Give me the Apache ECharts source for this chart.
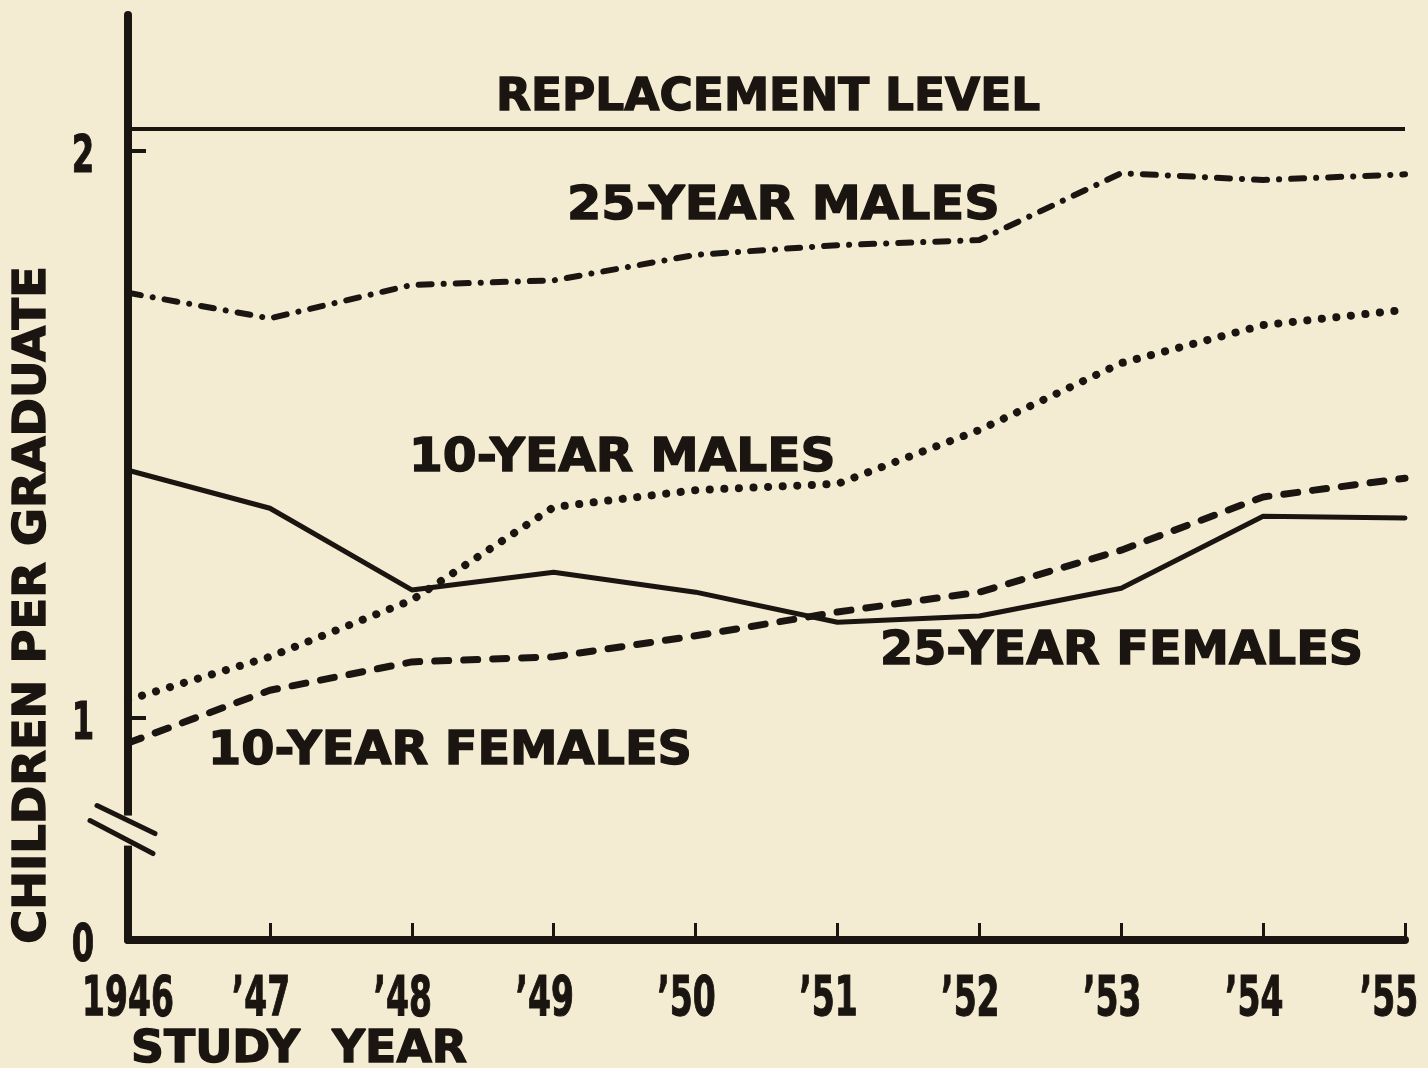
<!DOCTYPE html>
<html><head><meta charset="utf-8">
<script src="https://cdn.jsdelivr.net/npm/echarts@6/dist/echarts.min.js"></script>
<style>html,body{margin:0;padding:0;background:#f4ecd2;} #c{width:1428px;height:1068px;}</style>
</head><body><div id="c"></div>
<script>
const years = ['1946', '’47', '’48', '’49', '’50', '’51', '’52', '’53', '’54', '’55'];
const males25 = [1.750, 1.705, 1.764, 1.772, 1.817, 1.834, 1.843, 1.961, 1.949, 1.959];
const males10 = [1.032, 1.108, 1.208, 1.372, 1.402, 1.413, 1.508, 1.626, 1.693, 1.720];
const females25 = [1.437, 1.370, 1.226, 1.257, 1.222, 1.169, 1.180, 1.229, 1.356, 1.353];
const females10 = [0.956, 1.049, 1.099, 1.108, 1.145, 1.187, 1.222, 1.296, 1.390, 1.423];
const replacementLevel = 2.044;
const yMin = 0.6085, yMax = 2.24;
const yTickValues = [1, 2];
const yLabelValues = [yMin, 1, 2];
const yLabelTexts = ['0', '1', '2'];
const yBreak = [0.775, 0.828];

const INK = '#1b1511';
const BG = '#f4ecd2';
const txtFont = "'DejaVu Sans', sans-serif";

const chart = echarts.init(document.getElementById('c'), null, {renderer: 'canvas'});

function lineSeries(name, data, width, type) {
  return {
    name, type: 'line', data, symbol: 'none', smooth: false,
    lineStyle: {color: INK, width, type, cap: 'round', join: 'round'},
    z: 3
  };
}

chart.setOption({
  backgroundColor: BG,
  animation: false,
  grid: {left: 128, right: 23, top: 15, bottom: 128, containLabel: false, outerBoundsMode: 'none'},
  xAxis: {
    type: 'category', data: years, boundaryGap: false,
    axisLine: {lineStyle: {color: INK, width: 8, cap: 'round'}},
    axisTick: {show: true, inside: true, length: 17, alignWithLabel: true, lineStyle: {color: INK, width: 3}},
    axisLabel: {show: false},
    splitLine: {show: false}
  },
  yAxis: {
    type: 'value', min: yMin, max: yMax,
    axisLine: {show: true, lineStyle: {color: INK, width: 8, cap: 'round'}},
    axisTick: {show: true, inside: true, length: 18, customValues: yTickValues, lineStyle: {color: INK, width: 4}},
    axisLabel: {show: false},
    splitLine: {show: false}
  },
  series: [
    Object.assign(lineSeries('25-Year Males', males25, 6, [13, 12, 0.1, 12]), {
      markLine: {
        silent: true, symbol: 'none', label: {show: false},
        lineStyle: {color: INK, width: 4, type: 'solid'},
        data: [{yAxis: replacementLevel}]
      }
    }),
    lineSeries('10-Year Males', males10, 8, [0.1, 14.5]),
    lineSeries('25-Year Females', females25, 5, 'solid'),
    lineSeries('10-Year Females', females10, 7, [14, 15])
  ]
});

const p0 = chart.convertToPixel({gridIndex: 0}, [0, yBreak[1]]);
const p1 = chart.convertToPixel({gridIndex: 0}, [0, yBreak[0]]);
const ax = p0[0], yTop = p0[1], yBot = p1[1], yc = (yTop + yBot) / 2;

function label(text, left, top, size, sx) {
  return {type: 'text', x: left, y: top, scaleX: sx || 1, z: 10,
    style: {text, fill: INK, stroke: INK, lineWidth: 1.4, font: `bold ${size}px ${txtFont}`, align: 'left', verticalAlign: 'top'}};
}
function numText(text, x, y, size, sx, va) {
  return {type: 'text', x, y, scaleX: sx, z: 10,
    style: {text, fill: INK, stroke: INK, lineWidth: 1.2, font: `bold ${size}px ${txtFont}`, align: 'center', verticalAlign: va}};
}

const graphics = [
  label('REPLACEMENT LEVEL', 496, 76, 45, 1.01),
  label('25-YEAR MALES', 567, 183, 47, 1.05),
  label('10-YEAR MALES', 409, 435, 47, 1.035),
  label('25-YEAR FEMALES', 880, 628, 46.5, 1.025),
  label('10-YEAR FEMALES', 208, 728, 46.5, 1.027),
  label('STUDY  YEAR', 131, 1029, 44, 1.04),
  {type: 'text', x: 33, y: 605, rotation: Math.PI / 2, scaleX: 1.03, z: 10,
    style: {text: 'CHILDREN PER GRADUATE', fill: INK, stroke: INK, lineWidth: 1.4, font: `bold 45px ${txtFont}`, align: 'center', verticalAlign: 'middle'}},
  {type: 'rect', z: 20, shape: {x: ax - 7, y: yTop, width: 14, height: yBot - yTop}, style: {fill: BG}},
  {type: 'line', z: 21, shape: {x1: ax - 31, y1: yc - 25, x2: ax + 27, y2: yc + 3}, style: {stroke: INK, lineWidth: 5, lineCap: 'round'}},
  {type: 'line', z: 21, shape: {x1: ax - 38, y1: yc - 10, x2: ax + 25, y2: yc + 23}, style: {stroke: INK, lineWidth: 5, lineCap: 'round'}}
];

years.forEach((t, i) => {
  const p = chart.convertToPixel({gridIndex: 0}, [i, yMin]);
  const shift = i === 0 ? 0 : (i === years.length - 1 ? -16 : -9);
  graphics.push(numText(t, p[0] + shift, p[1] + 33, 55, 0.6, 'top'));
});
yLabelValues.forEach((v, i) => {
  const p = chart.convertToPixel({gridIndex: 0}, [0, v]);
  graphics.push(numText(yLabelTexts[i], p[0] - 45, p[1] + 7, 52, 0.62, 'middle'));
});

chart.setOption({graphic: graphics});
</script>
</body></html>
